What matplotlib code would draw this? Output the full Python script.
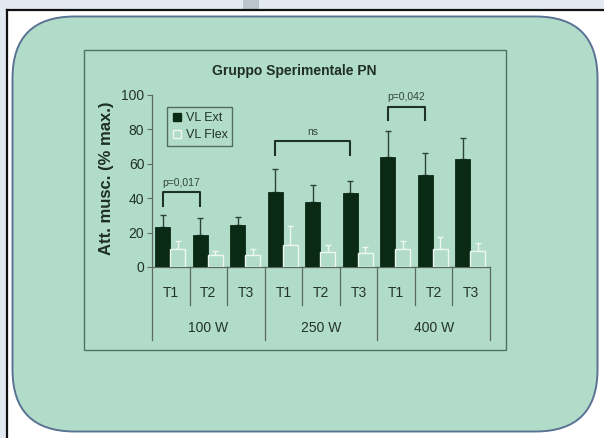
import numpy as np
import matplotlib
matplotlib.use("Agg")
import matplotlib.pyplot as plt
from matplotlib.patches import FancyBboxPatch, Rectangle
from matplotlib.lines import Line2D
from matplotlib.transforms import blended_transform_factory

plt.rcParams["font.family"] = ["Liberation Sans", "DejaVu Sans"]

# data
groups = ["100 W", "250 W", "400 W"]
times = ["T1", "T2", "T3"]
vl_ext = [23.4, 18.4, 24.2, 43.6, 37.8, 42.8, 64.1, 53.3, 63.0]
vl_ext_err = [6.6, 9.9, 4.7, 13.6, 9.7, 7.4, 15.2, 13.0, 11.8]
vl_flex = [10.3, 7.2, 7.2, 12.8, 8.7, 7.9, 10.7, 10.3, 9.1]
vl_flex_err = [5.0, 1.9, 3.1, 11.2, 4.1, 3.7, 4.6, 7.1, 4.7]
# (start bar, end bar, height, label)
brackets = [(0, 1, 43.6, "p=0,017"), (3, 5, 73.3, "ns"), (6, 7, 93.2, "p=0,042")]

W, H = 604, 438
fig = plt.figure(figsize=(W / 100, H / 100), dpi=100)
fig.patch.set_facecolor("white")

# background in pixel coordinates
bg = fig.add_axes([0, 0, 1, 1])
bg.set_xlim(0, W)
bg.set_ylim(H, 0)
bg.axis("off")
bg.add_patch(Rectangle((0, 0), W, 9, color="#e2e9f1", lw=0))
bg.add_patch(Rectangle((0, 0), 6, H, color="#e2e9f1", lw=0))
bg.add_patch(Rectangle((243, 0), 16, 9, color="#bcc4cc", lw=0))
bg.plot([6.5, W], [9.5, 9.5], color="#111111", lw=1.6)
bg.plot([6.5, 6.5], [9.5, H], color="#111111", lw=1.6)
bg.add_patch(FancyBboxPatch((12.5, 16.5), 585, 415,
                            boxstyle="round,pad=0,rounding_size=62",
                            facecolor="#b2dcca", edgecolor="#5a7392", lw=1.4))
bg.add_patch(Rectangle((84, 50), 421.5, 300, facecolor="none",
                       edgecolor="#4f7363", lw=1.0))

bg.text(294, 71, "Gruppo Sperimentale PN", ha="center", va="center",
        fontsize=10, fontweight="bold", color="#1e2e26")
bg.text(106, 178, "Att. musc. (% max.)", ha="center", va="center",
        rotation=90, fontsize=12, fontweight="bold", color="#1e2e26")

# main chart
ax = fig.add_axes([152 / W, (H - 267) / H, (490 - 152) / W, (267 - 95) / H])
ax.patch.set_alpha(0)
x = np.arange(len(vl_ext))
bw = 0.4
ax.bar(x + 0.08, vl_ext, bw, align="edge", color="#0b2a16", edgecolor="#0b2a16",
       lw=0.6, zorder=3)
ax.bar(x + 0.48, vl_flex, bw, align="edge", color="#b2dcca", edgecolor="#eef6f0",
       lw=1.0, zorder=3)
ax.errorbar(x + 0.28, vl_ext, yerr=[np.zeros(9), vl_ext_err], fmt="none",
            ecolor="#2c4436", elinewidth=1.0, capsize=2.5, capthick=1.0, zorder=2)
ax.errorbar(x + 0.68, vl_flex, yerr=[np.zeros(9), vl_flex_err], fmt="none",
            ecolor="#eef6f0", elinewidth=1.0, capsize=2.5, capthick=1.0, zorder=2)

for a, b, h, lab in brackets:
    xa, xb = a + 0.28, b + 0.28
    ax.plot([xa, xa, xb, xb], [h - 8, h, h, h - 8], color="#1c3326", lw=1.5,
            clip_on=False, zorder=4)
    ax.text((xa + xb) / 2, h + 2.5, lab, ha="center", va="bottom", fontsize=7.5,
            color="#33463c")

ax.set_xlim(0, 9)
ax.set_ylim(0, 100)
ax.set_yticks(range(0, 101, 20))
ax.tick_params(axis="y", length=3.5, width=0.8, color="#5a6a60", labelsize=10,
               labelcolor="#22332a", pad=2)
ax.set_xticks([])
for s in ["top", "right"]:
    ax.spines[s].set_visible(False)
for s in ["left", "bottom"]:
    ax.spines[s].set_color("#5a6a60")
    ax.spines[s].set_linewidth(0.9)

# multi-level category axis
tr = blended_transform_factory(ax.transData, bg.transData)
for i in range(10):
    bottom = 340 if i % 3 == 0 else 305
    ax.plot([i, i], [267, bottom], color="#5a6a60", lw=0.9, transform=tr,
            clip_on=False)
for i in range(9):
    ax.text(i + 0.5, 293, times[i % 3], transform=tr, ha="center", va="center",
            fontsize=10, color="#22332a")
for g, name in enumerate(groups):
    ax.text(3 * g + 1.5, 328, name, transform=tr, ha="center", va="center",
            fontsize=10, color="#22332a")

handles = [Line2D([], [], ls="none", marker="s", ms=6, mfc="#0b2a16",
                  mec="#0b2a16"),
           Line2D([], [], ls="none", marker="s", ms=6, mfc="#b2dcca",
                  mec="#eef6f0")]
leg = ax.legend(handles, ["VL Ext", "VL Flex"], loc="upper left",
                bbox_to_anchor=(0.044, 0.93), fontsize=9, frameon=True,
                fancybox=False, handlelength=0.8, handletextpad=0.3,
                borderpad=0.4, labelspacing=0.4, borderaxespad=0)
leg.get_frame().set_edgecolor("#3c5246")
leg.get_frame().set_facecolor("none")
leg.get_frame().set_linewidth(1.0)
for t in leg.get_texts():
    t.set_color("#22332a")

fig.savefig("out.png", dpi=100)
